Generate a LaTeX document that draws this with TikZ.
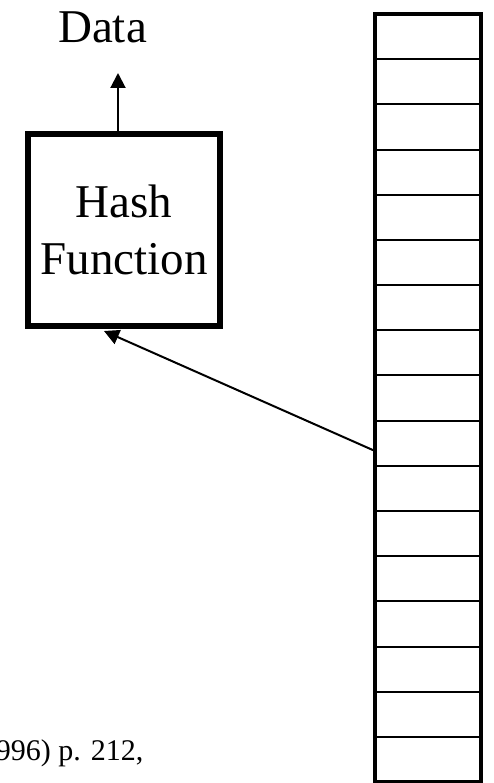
\documentclass[tikz,border=0pt]{standalone}
\usepackage{fontspec}
\setmainfont{Liberation Serif}
\usetikzlibrary{arrows.meta}
\begin{document}
\begin{tikzpicture}[x=1pt,y=-1pt,
  bigtext/.style={font=\fontsize{47}{57}\selectfont},
  hashbox/.style={draw, line width=5.5pt, minimum width=192pt, minimum height=192pt, inner sep=0pt, align=center, bigtext},
  conn/.style={line width=2pt, -{Triangle[length=15pt,width=15pt]}},
  tablebox/.style={draw, line width=4pt, minimum width=106pt, minimum height=768pt, inner sep=0pt}
]
\useasboundingbox (0,0) rectangle (493,783);
\node[bigtext, anchor=base] (data) at (102.5,43) {Data};
\node[hashbox] (hash) at (124,230) {Hash\\Function};
\node[tablebox] (table) at (428,398) {};
\foreach \k in {1,...,16}{
  \draw[line width=2pt] (375,14+\k*45.18) -- (481,14+\k*45.18);
}
\coordinate (datatip) at (118,73);
\coordinate (src) at (375,451);
\coordinate (hashtip) at (104,331);
\draw[conn] (hash.north -| datatip) -- (datatip);
\draw[conn] (src) -- (hashtip);
\node[font=\fontsize{30}{36}\selectfont, anchor=base east] (cite) at (147,760) {996) p. 212,};
\end{tikzpicture}
\end{document}
